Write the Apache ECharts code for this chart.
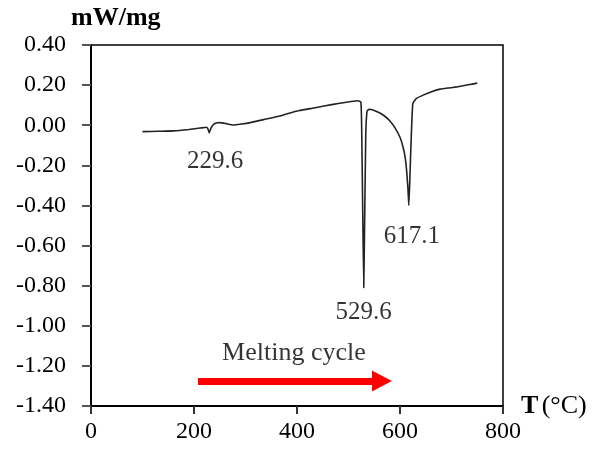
<!DOCTYPE html>
<html>
<head>
<meta charset="utf-8">
<script src="https://cdn.jsdelivr.net/npm/echarts@6/dist/echarts.min.js"></script>
<style>
  html, body { margin: 0; padding: 0; background: #fff; }
  #chart { width: 594px; height: 454px; }
</style>
</head>
<body>
<div id="chart"></div>
<script>
// DSC heating trace: temperature (°C) vs heat flow (mW/mg)
const temperature = [
  100, 130, 160, 190, 212, 224, 227, 229.6, 233, 238, 245, 250, 262, 276, 292,
  309, 335, 367, 385, 405, 430, 455, 480, 505, 518, 524, 525.5, 527.5, 529.6,
  531.5, 533.5, 536, 540, 550, 560, 570, 580, 590, 600, 606, 610, 613, 615.5,
  617.1, 619, 621, 623, 625, 632, 645, 660, 678, 695, 710, 725, 740, 750
];
const heatFlow = [
  -0.032, -0.030, -0.028, -0.021, -0.014, -0.010, -0.018, -0.038, -0.015, 0.004, 0.012, 0.013, 0.008, 0.001, 0.006,
  0.013, 0.028, 0.046, 0.060, 0.073, 0.085, 0.097, 0.108, 0.118, 0.122, 0.116, 0.000, -0.400, -0.810,
  -0.450, -0.050, 0.070, 0.080, 0.074, 0.062, 0.046, 0.022, -0.012, -0.060, -0.110, -0.160, -0.230, -0.320,
  -0.400, -0.280, -0.120, 0.020, 0.110, 0.134, 0.150, 0.166, 0.180, 0.186, 0.191, 0.198, 0.205, 0.210
];

// Peak temperatures and their heat-flow minima
const peakTemps = [229.6, 529.6, 617.1];
const peakFlows = [-0.038, -0.810, -0.400];

// Axis tick values
const xTicks = [0, 200, 400, 600, 800];
const yTicks = [-1.40, -1.20, -1.00, -0.80, -0.60, -0.40, -0.20, 0.00, 0.20, 0.40];

// Heating direction arrow (start / end temperature, level)
const arrowFrom = [207.8, -1.275];
const arrowTo = [565, -1.275];
const arrowCaption = 'Melting cycle';
const captionAt = [394, -1.275];

const serif = '"Liberation Serif", "Times New Roman", serif';

const chart = echarts.init(document.getElementById('chart'), null, { renderer: 'canvas' });

const peakOffsets = [[6, 29], [0, 25], [3, 31]];

chart.setOption({
  animation: false,
  backgroundColor: '#ffffff',
  grid: {
    left: 91, right: 91, top: 45, bottom: 48,
    show: true, borderColor: '#000', borderWidth: 1.5
  },
  xAxis: {
    type: 'value',
    min: xTicks[0], max: xTicks[xTicks.length - 1], interval: 200,
    axisLine: { onZero: false, lineStyle: { color: '#000', width: 2 } },
    axisTick: { show: true, length: 8, lineStyle: { color: '#333', width: 2 } },
    axisLabel: { color: '#000', fontFamily: serif, fontSize: 24, margin: 14 },
    splitLine: { show: false }
  },
  yAxis: {
    type: 'value',
    min: yTicks[0], max: yTicks[yTicks.length - 1], interval: 0.2,
    axisLine: { onZero: false, lineStyle: { color: '#000', width: 2 } },
    axisTick: { show: true, length: 9, lineStyle: { color: '#555', width: 2 } },
    axisLabel: {
      color: '#000', fontFamily: serif, fontSize: 24, margin: 25,
      formatter: v => v.toFixed(2)
    },
    splitLine: { show: false }
  },
  graphic: [
    {
      type: 'text', left: 71, top: 5,
      style: { text: 'mW/mg', font: 'bold 26px ' + serif, fill: '#000' }
    },
    {
      type: 'text', left: 521, top: 393,
      style: {
        text: '{b|T} {r|(°C)}', fill: '#000',
        rich: {
          b: { font: 'bold 26px ' + serif, fill: '#000' },
          r: { font: '26px ' + serif, fill: '#000' }
        }
      }
    }
  ],
  series: [
    {
      type: 'line',
      data: temperature.map((t, i) => [t, heatFlow[i]]),
      showSymbol: false,
      smooth: 0.12,
      lineStyle: { color: '#222', width: 1.6 },
      z: 3
    },
    {
      type: 'scatter',
      data: peakTemps.map((t, i) => ({
        value: [t, peakFlows[i]],
        label: { offset: peakOffsets[i] }
      })),
      symbolSize: 0,
      label: {
        show: true, position: 'inside',
        formatter: p => p.value[0].toFixed(1),
        color: '#000', fontFamily: serif, fontSize: 25
      },
      z: 4
    },
    {
      type: 'scatter',
      data: [{ value: captionAt }],
      symbolSize: 0,
      label: {
        show: true, position: 'inside', offset: [0, -28],
        formatter: arrowCaption,
        color: '#000', fontFamily: serif, fontSize: 26
      },
      markLine: {
        silent: true,
        symbol: ['none', 'triangle'],
        symbolSize: [21, 20],
        label: { show: false },
        lineStyle: { color: '#ff0000', width: 7, type: 'solid' },
        data: [[{ coord: arrowFrom }, { coord: arrowTo }]]
      }
    }
  ]
});
</script>
</body>
</html>
